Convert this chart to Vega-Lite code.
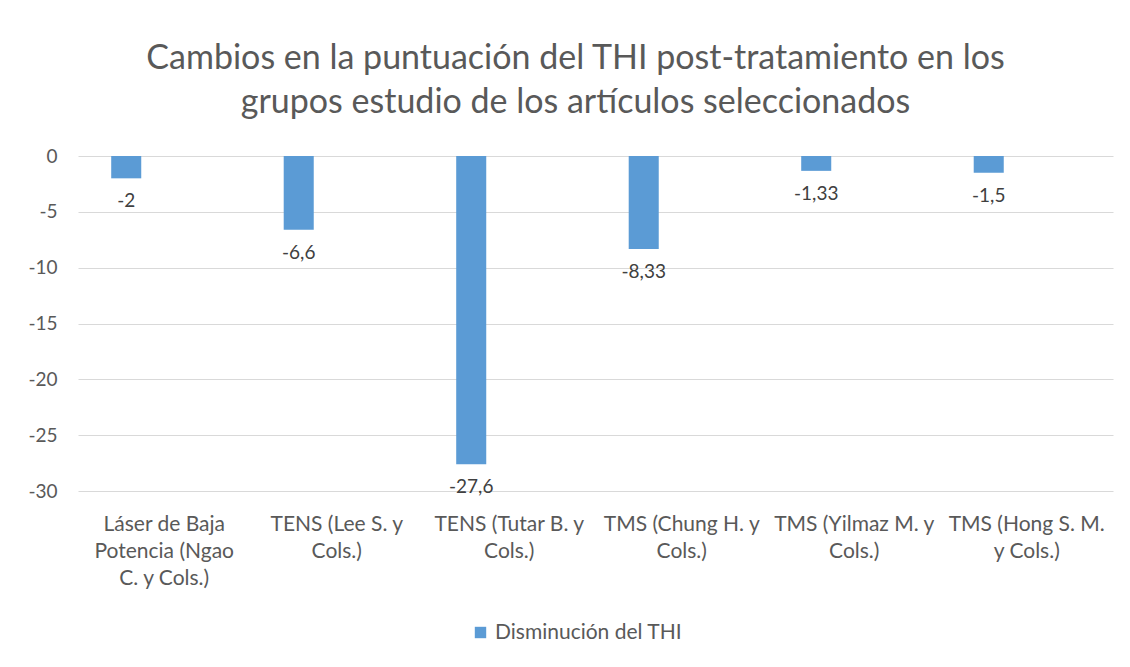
{
  "$schema": "https://vega.github.io/schema/vega-lite/v6.json",
  "width": 1035,
  "height": 335,
  "autosize": "none",
  "padding": {"left": 78, "top": 156, "right": 17, "bottom": 176},
  "background": "white",
  "config": {
    "view": {"stroke": null},
    "font": "Lato",
    "locale": {"number": {"decimal": ",", "thousands": ".", "grouping": [3], "currency": ["", " €"], "minus": "-"}}
  },
  "title": {
    "text": ["Cambios en la puntuación del THI post-tratamiento en los", "grupos estudio de los artículos seleccionados"],
    "fontSize": 34,
    "font": "Lato",
    "fontWeight": "normal",
    "color": "#595959",
    "anchor": "middle",
    "dx": -20,
    "offset": 27,
    "lineHeight": 44
  },
  "data": {
    "values": [
      {"estudio": "Láser de Baja\nPotencia (Ngao\nC. y Cols.)", "serie": "Disminución del THI", "valor": -2},
      {"estudio": "TENS (Lee S. y\nCols.)", "serie": "Disminución del THI", "valor": -6.6},
      {"estudio": "TENS (Tutar B. y\nCols.)", "serie": "Disminución del THI", "valor": -27.6},
      {"estudio": "TMS (Chung H. y\nCols.)", "serie": "Disminución del THI", "valor": -8.33},
      {"estudio": "TMS (Yilmaz M. y\nCols.)", "serie": "Disminución del THI", "valor": -1.33},
      {"estudio": "TMS (Hong S. M.\ny Cols.)", "serie": "Disminución del THI", "valor": -1.5}
    ]
  },
  "encoding": {
    "x": {
      "field": "estudio",
      "type": "nominal",
      "sort": null,
      "scale": {"paddingInner": 0.385, "paddingOuter": 0.1925},
      "axis": {
        "title": null,
        "labelAngle": 0,
        "domain": false,
        "ticks": false,
        "labelPadding": 22,
        "labelFontSize": 21,
        "labelColor": "#595959",
        "labelLineHeight": 27,
        "labelBaseline": "top",
        "labelLimit": 0,
        "labelExpr": "split(datum.label, '\\n')"
      }
    },
    "xOffset": {
      "field": "serie",
      "type": "nominal",
      "scale": {"domain": ["Disminución del THI", "(vacía)"], "paddingInner": 0.605, "paddingOuter": 0}
    },
    "y": {
      "field": "valor",
      "type": "quantitative",
      "scale": {"domain": [-30, 0], "nice": false},
      "axis": {
        "values": [-30, -25, -20, -15, -10, -5, 0],
        "title": null,
        "domain": false,
        "ticks": false,
        "labelPadding": 21,
        "labelFontSize": 19,
        "labelColor": "#595959",
        "gridColor": "#d9d9d9",
        "format": "d"
      }
    }
  },
  "layer": [
    {
      "mark": {"type": "bar", "color": "#5B9BD5"},
      "encoding": {
        "color": {
          "field": "serie",
          "type": "nominal",
          "scale": {"range": ["#5B9BD5"]},
          "legend": {
            "title": null,
            "orient": "none",
            "legendX": 392,
            "legendY": 466,
            "direction": "horizontal",
            "symbolType": "square",
            "symbolSize": 130,
            "symbolStrokeWidth": 0,
            "labelFontSize": 21,
            "labelLimit": 0,
            "labelColor": "#595959"
          }
        }
      }
    },
    {
      "mark": {"type": "text", "baseline": "top", "dy": 14, "fontSize": 19, "color": "#404040"},
      "encoding": {
        "text": {"field": "valor", "type": "quantitative", "format": ".3~r"}
      }
    }
  ]
}
